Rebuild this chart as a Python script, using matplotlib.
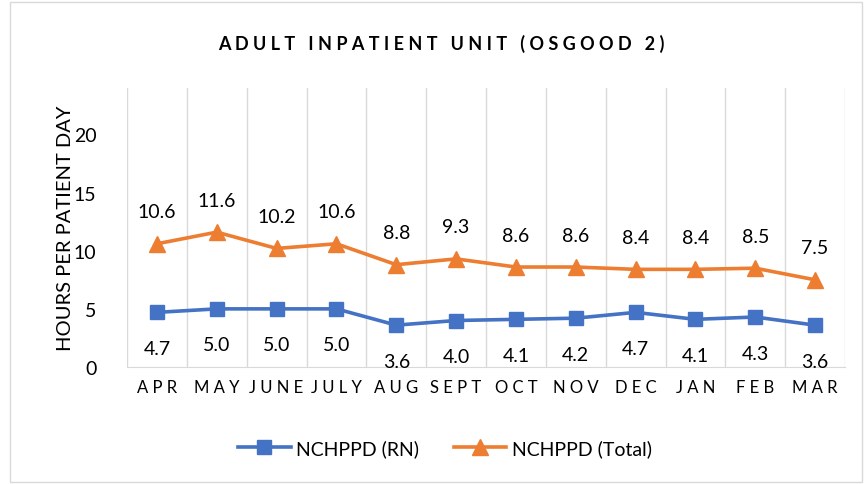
import matplotlib
matplotlib.use("Agg")
import matplotlib.pyplot as plt
from matplotlib.patches import Rectangle
import numpy as np

months = ["APR", "MAY", "JUNE", "JULY", "AUG", "SEPT", "OCT", "NOV", "DEC", "JAN", "FEB", "MAR"]
rn = [4.7, 5.0, 5.0, 5.0, 3.6, 4.0, 4.1, 4.2, 4.7, 4.1, 4.3, 3.6]
total = [10.6, 11.6, 10.2, 10.6, 8.8, 9.3, 8.6, 8.6, 8.4, 8.4, 8.5, 7.5]
yticks = [0, 5, 10, 15, 20]

plt.rcParams['font.family'] = ['Lato', 'DejaVu Sans']

fig = plt.figure(figsize=(8.65, 4.85), dpi=100)
ax = fig.add_axes([127/865, 1-368/485, (845-127)/865, (368-89)/485])

blue = "#4472C4"
orange = "#ED7D31"
gray = "#D9D9D9"

x = np.arange(len(months))
ax.plot(x, rn, color=blue, lw=2.6, marker="s", ms=10.5, label="NCHPPD (RN)", zorder=3)
ax.plot(x, total, color=orange, lw=2.6, marker="^", ms=11, label="NCHPPD (Total)", zorder=3)

for xi, v in zip(x, total):
    ax.annotate(f"{v:.1f}", (xi, v), xytext=(0, 23), textcoords="offset points",
                ha="center", va="center", fontsize=14, color="#000000")
for xi, v in zip(x, rn):
    ax.annotate(f"{v:.1f}", (xi, v), xytext=(0, -26), textcoords="offset points",
                ha="center", va="center", fontsize=14, color="#000000")

ax.set_xlim(-0.5, len(months) - 0.5)
ax.set_ylim(0, 24)
ax.set_yticks(yticks)
ax.set_yticklabels([str(t) for t in yticks], fontsize=14)
ax.set_xticks(x)
ax.set_xticklabels([" ".join(m) for m in months], fontsize=12)
ax.set_xticks(np.arange(-0.5, len(months), 1), minor=True)
ax.grid(which="minor", axis="x", color=gray, lw=1)
ax.tick_params(which="both", length=0)
ax.tick_params(axis="x", pad=9)
ax.tick_params(axis="y", pad=22)
for s in ["top", "right", "left"]:
    ax.spines[s].set_visible(False)
ax.spines["bottom"].set_color(gray)
ax.set_ylabel("HOURS PER PATIENT DAY", fontsize=14.5, labelpad=0)

fig.text(441/865, 1-44/485, " ".join("ADULT INPATIENT UNIT (OSGOOD 2)"),
         ha="center", va="center", fontsize=13, fontweight="bold")

fig.legend(loc="center", bbox_to_anchor=(445/865, 1-449/485), ncol=2, frameon=False,
           fontsize=14, handlelength=2.7, columnspacing=1.75, handletextpad=0.3)

fig.patches.append(Rectangle((10/865, 2/485), 852/865, 480/485, transform=fig.transFigure,
                             fill=False, edgecolor=gray, lw=1))

fig.savefig("out.png", dpi=100)
